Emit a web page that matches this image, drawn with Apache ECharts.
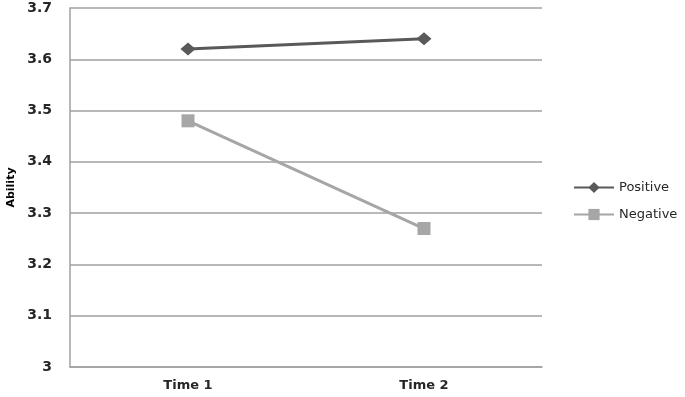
<!DOCTYPE html>
<html>
<head>
<meta charset="utf-8">
<script src="https://cdn.jsdelivr.net/npm/echarts@6/dist/echarts.min.js"></script>
<style>
  html, body { margin: 0; padding: 0; background: #fff; }
  #main { width: 685px; height: 397px; }
</style>
</head>
<body>
<div id="main"></div>
<script>
// categories and values
var categories = ['Time 1', 'Time 2'];
var positive = [3.62, 3.64];
var negative = [3.48, 3.27];
var yTicks = [3, 3.1, 3.2, 3.3, 3.4, 3.5, 3.6, 3.7];

var chart = echarts.init(document.getElementById('main'));
var option = {
  animation: false,
  backgroundColor: '#fff',
  textStyle: { fontFamily: '"DejaVu Sans", sans-serif' },
  grid: { left: 70, right: 143, top: 8, bottom: 30, containLabel: false, outerBoundsMode: 'none' },
  legend: {
    orient: 'vertical',
    left: 568,
    top: 176,
    itemWidth: 40,
    itemHeight: 14,
    itemGap: 14,
    textStyle: { color: '#262626', fontSize: 13, fontFamily: '"DejaVu Sans", sans-serif' },
    data: ['Positive', 'Negative']
  },
  xAxis: {
    type: 'category',
    data: categories,
    boundaryGap: true,
    axisLine: { lineStyle: { color: '#a0a0a0', width: 1.5 } },
    axisTick: { show: false },
    axisLabel: { color: '#262626', fontWeight: 'bold', fontSize: 13, margin: 12 }
  },
  yAxis: {
    type: 'value',
    min: yTicks[0],
    max: yTicks[yTicks.length - 1],
    interval: 0.1,
    name: 'Ability',
    nameLocation: 'middle',
    nameRotate: 90,
    nameGap: 52,
    nameTextStyle: { color: '#000', fontWeight: 'bold', fontSize: 11 },
    axisLine: { show: true, lineStyle: { color: '#a0a0a0', width: 1.5 } },
    axisTick: { show: false },
    axisLabel: {
      color: '#262626', fontWeight: 'bold', fontSize: 14, margin: 18,
      formatter: function (v) { return String(Math.round(v * 10) / 10); }
    },
    splitLine: { lineStyle: { color: '#a0a0a0', width: 1.5 } }
  },
  series: [
    {
      name: 'Positive',
      type: 'line',
      data: positive,
      symbol: 'diamond',
      symbolSize: [15, 13],
      lineStyle: { color: '#595959', width: 3 },
      itemStyle: { color: '#595959' }
    },
    {
      name: 'Negative',
      type: 'line',
      data: negative,
      symbol: 'rect',
      symbolSize: 13,
      lineStyle: { color: '#a6a6a6', width: 3 },
      itemStyle: { color: '#a6a6a6' }
    }
  ]
};
chart.setOption(option);
</script>
</body>
</html>
